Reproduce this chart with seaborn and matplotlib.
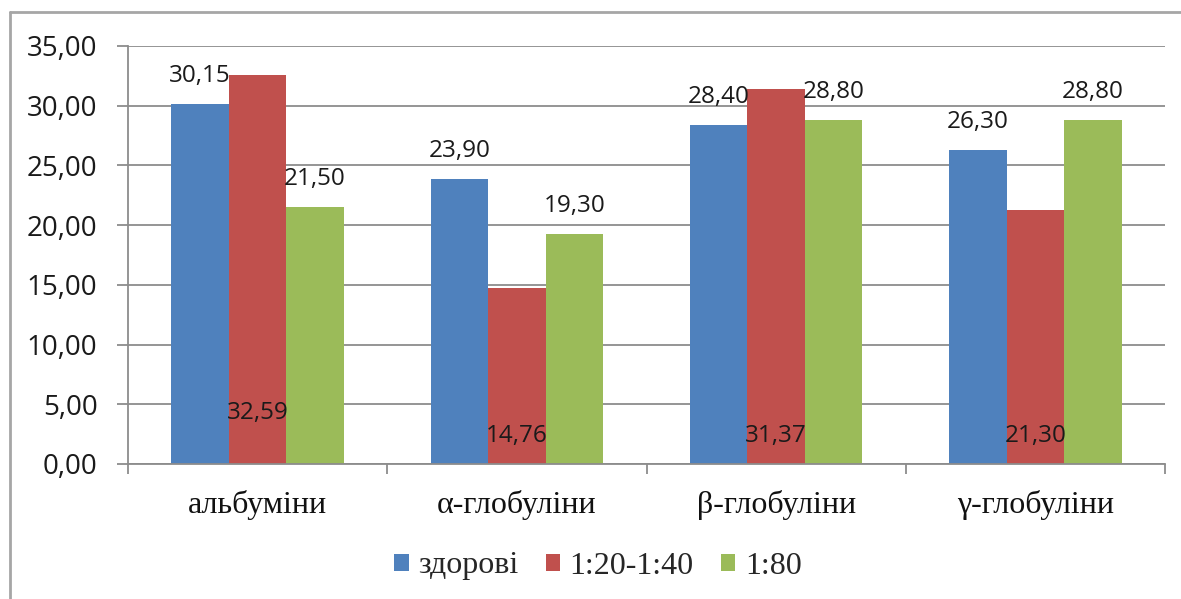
import numpy as np
import pandas as pd
import matplotlib
matplotlib.use("Agg")
import matplotlib.pyplot as plt
import seaborn as sns
from matplotlib.ticker import FuncFormatter, FixedLocator
from matplotlib.lines import Line2D
from matplotlib.patches import Patch

# chart data
categories = ["альбуміни", "α-глобуліни", "β-глобуліни", "γ-глобуліни"]
groups = ["здорові", "1:20-1:40", "1:80"]
healthy = [30.15, 23.90, 28.40, 26.30]
dil_20_40 = [32.59, 14.76, 31.37, 21.30]
dil_80 = [21.50, 19.30, 28.80, 28.80]
yticks = [0, 5, 10, 15, 20, 25, 30, 35]

colors = ["#4F81BD", "#C0504D", "#9BBB59"]

df = pd.DataFrame({
    "cat": categories * 3,
    "group": [g for g in groups for _ in categories],
    "value": healthy + dil_20_40 + dil_80,
})

sns.set_theme(style="white")
plt.rcParams["font.family"] = ["Open Sans", "DejaVu Sans"]

fig = plt.figure(figsize=(11.81, 5.99), dpi=100)
ax = fig.add_axes([128 / 1181, 1 - 464 / 599, (1165 - 128) / 1181, (464 - 46) / 599])

sns.barplot(data=df, x="cat", y="value", hue="group", palette=colors,
            width=0.665, gap=0, saturation=1, linewidth=0, ax=ax,
            legend=False, errorbar=None)

ax.set_xlim(-0.5, 3.5)
ax.set_ylim(0, 35)
ax.set_xlabel("")
ax.set_ylabel("")

ax.yaxis.set_major_locator(FixedLocator(yticks))
ax.yaxis.set_major_formatter(FuncFormatter(lambda v, p: f"{v:.2f}".replace(".", ",")))
ax.grid(axis="y", color="#8c8c8c", linewidth=1.3)
ax.set_axisbelow(True)

for s in ["top", "right"]:
    ax.spines[s].set_visible(False)
for s in ["left", "bottom"]:
    ax.spines[s].set_color("#8c8c8c")
    ax.spines[s].set_linewidth(1.3)

ax.tick_params(axis="y", direction="out", length=8, width=1.3, color="#8c8c8c",
               pad=14, labelsize=20, labelcolor="#1a1a1a", left=True)
ax.tick_params(axis="x", length=0, pad=19, labelsize=23, labelcolor="#111111")
for lab in ax.get_xticklabels():
    lab.set_fontfamily("Liberation Serif")
ax.set_xticks([-0.5, 0.5, 1.5, 2.5, 3.5], minor=True)
ax.tick_params(axis="x", which="minor", direction="out", length=7, width=1.3,
               color="#8c8c8c", bottom=True)

# value labels
for i, cont in enumerate(ax.containers):
    for j, bar in enumerate(cont):
        v = bar.get_height()
        x = bar.get_x() + bar.get_width() / 2
        txt = f"{v:.2f}".replace(".", ",")
        if i == 1:
            off = 37 if j == 0 else 20
            ax.annotate(txt, (x, 0), xytext=(0, off), textcoords="offset points",
                        ha="center", va="center", fontsize=17.5, color="#1a1a1a")
        else:
            ax.annotate(txt, (x, v), xytext=(0, 20), textcoords="offset points",
                        ha="center", va="center", fontsize=17.5, color="#1a1a1a")

handles = [Patch(facecolor=c, edgecolor="none") for c in colors]
fig.legend(handles, groups, loc="center", bbox_to_anchor=(598 / 1181, 1 - 566 / 599),
           ncol=3, frameon=False, handlelength=0.45, handleheight=0.45,
           handletextpad=0.3, columnspacing=0.85,
           prop={"family": "Liberation Serif", "size": 23})

# outer frame
fig.add_artist(Line2D([10 / 1181, 10 / 1181], [0, 1 - 12 / 599], color="#a6a6a6", lw=2,
                      transform=fig.transFigure))
fig.add_artist(Line2D([10 / 1181, 1], [1 - 12 / 599, 1 - 12 / 599], color="#a6a6a6", lw=2,
                      transform=fig.transFigure))

fig.savefig("out.png", dpi=100)
